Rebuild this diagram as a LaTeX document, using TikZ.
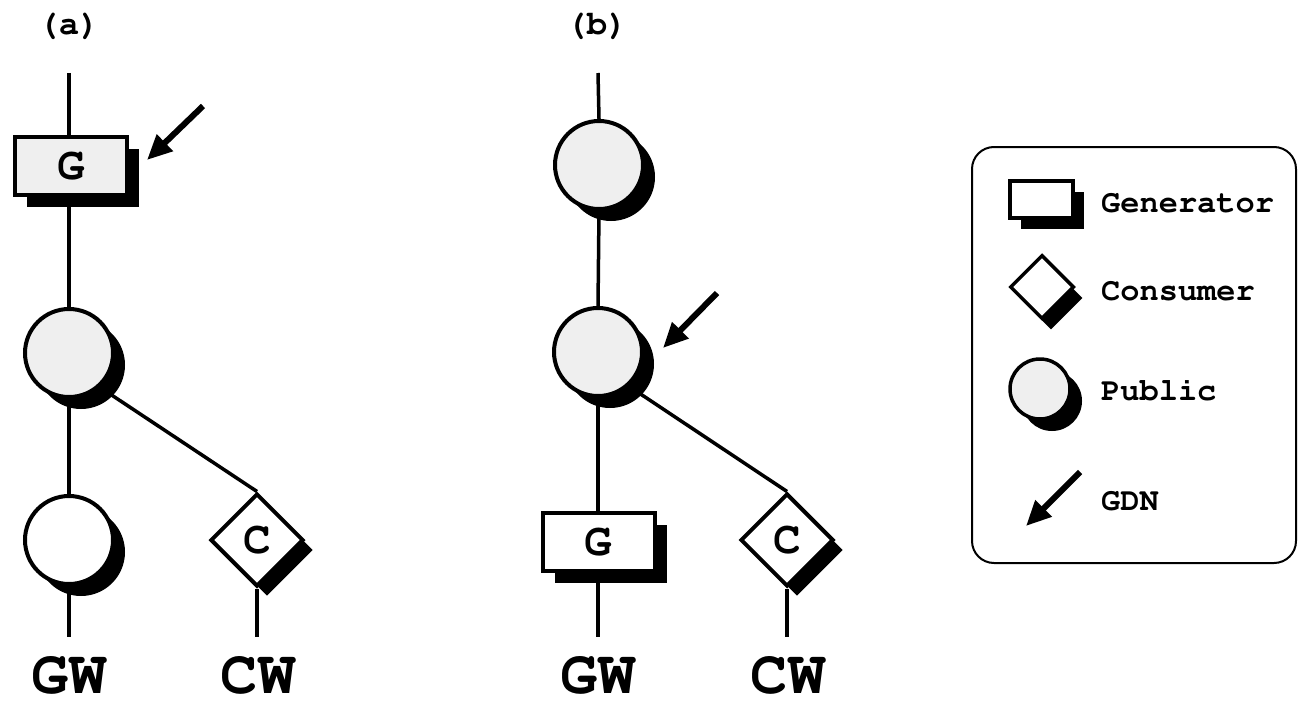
\documentclass[tikz,border=0pt]{standalone}
\usepackage[T1,TU]{fontenc}
\usetikzlibrary{shapes.geometric,shadows,arrows.meta,backgrounds}
\newcommand\courb{\fontencoding{T1}\fontfamily{pcr}\fontseries{b}\selectfont}
\definecolor{pubgray}{HTML}{EFEFEF}
\tikzset{
  conn/.style={line width=3.5pt},
  shad/.style={drop shadow={shadow xshift=#1, shadow yshift=-#1, opacity=1, fill=black}},
  genbox/.style={draw, line width=4pt, rectangle, minimum width=112pt, minimum height=58pt, inner sep=0pt, shad=12pt, font=\courb\fontsize{46}{46}\selectfont},
  pubnode/.style={draw, line width=4pt, circle, minimum size=88pt, inner sep=0pt, shad=12pt},
  consnode/.style={draw, line width=4pt, diamond, aspect=1, minimum width=93pt, minimum height=93pt, inner sep=0pt, fill=white, drop shadow={shadow xshift=10pt, shadow yshift=-10pt, opacity=1, fill=black}, font=\courb\fontsize{46}{46}\selectfont},
  gdn/.style={line width=6pt, -{Triangle[length=25pt,width=22pt]}},
  small/.style={font=\courb\fontsize{32}{32}\selectfont, inner sep=0pt},
  panel/.style={font=\courb\fontsize{34}{34}\selectfont, inner sep=0pt, anchor=base},
  big/.style={font=\courb\fontsize{62}{62}\selectfont, inner sep=0pt, anchor=base},
}
\begin{document}
\begin{tikzpicture}[x=1pt,y=-1pt]
\useasboundingbox (0,0) rectangle (1298,701);
% ---------- panel (a)
\node[panel] (la) at (69,35) {(a)};
\node[genbox, fill=pubgray] (ga) at (71,166) {G};
\node[pubnode, fill=pubgray] (pa) at (69,353) {};
\node[pubnode, fill=white] (wa) at (69,540) {};
\node[consnode] (ca) at (257,540) {C};
\node[big] (gwa) at (69,693) {GW};
\node[big] (cwa) at (258,693) {CW};
\coordinate (atop) at (69,73);
\coordinate (abot) at (69,637);
\coordinate (acbot) at (257,637);
\coordinate (arra1) at (203,106);
\coordinate (arra2) at (147,160);
% ---------- panel (b)
\node[panel] (lb) at (597,35) {(b)};
\node[pubnode, fill=pubgray] (pb1) at (599,165) {};
\node[pubnode, fill=pubgray] (pb2) at (598,352) {};
\node[genbox, fill=white] (gb) at (598.5,542) {G};
\node[consnode] (cb) at (787,540) {C};
\node[big] (gwb) at (598,693) {GW};
\node[big] (cwb) at (788,693) {CW};
\coordinate (btop) at (598,73);
\coordinate (bbot) at (598,637);
\coordinate (bcbot) at (787,637);
\coordinate (arrb1) at (717,293);
\coordinate (arrb2) at (663,348);
% ---------- connectors (behind nodes)
\begin{scope}[on background layer]
\draw[conn] (atop) -- (atop |- ga.north);
\draw[conn] (ga.south -| atop) -- (pa.north);
\draw[conn] (pa.south) -- (wa.north);
\draw[conn] (wa.south) -- (abot);
\draw[conn] (pa.-48) -- (ca.north);
\draw[conn] (ca.south) -- (acbot);
\draw[conn] (btop) -- (pb1.north);
\draw[conn] (pb1.south) -- (pb2.north);
\draw[conn] (pb2.south) -- (gb.north -| pb2.south);
\draw[conn] (gb.south -| bbot) -- (bbot);
\draw[conn] (pb2.-48) -- (cb.north);
\draw[conn] (cb.south) -- (bcbot);
\end{scope}
\draw[gdn] (arra1) -- (arra2);
\draw[gdn] (arrb1) -- (arrb2);
% ---------- legend
\draw[line width=2pt, rounded corners=22pt] (972,147) rectangle (1296,563);
\node[draw, line width=3.5pt, rectangle, minimum width=63pt, minimum height=37pt, inner sep=0pt, fill=white, shad=11pt] (lgen) at (1041.5,199.5) {};
\node[draw, line width=3.5pt, diamond, aspect=1, minimum width=64pt, minimum height=64pt, inner sep=0pt, fill=white, drop shadow={shadow xshift=9pt, shadow yshift=-11pt, opacity=1, fill=black}] (lcon) at (1042,287) {};
\node[draw, line width=3.5pt, circle, minimum size=60pt, inner sep=0pt, fill=pubgray, shad=12pt] (lpub) at (1040,389) {};
\coordinate (larr1) at (1080,472);
\coordinate (larr2) at (1026,526);
\draw[gdn] (larr1) -- (larr2);
\node[small, anchor=base west] (tgen) at (1101,212) {Generator};
\node[small, anchor=base west] (tcon) at (1101,300) {Consumer};
\node[small, anchor=base west] (tpub) at (1101,400) {Public};
\node[small, anchor=base west] (tgdn) at (1101,510) {GDN};
\end{tikzpicture}
\end{document}
